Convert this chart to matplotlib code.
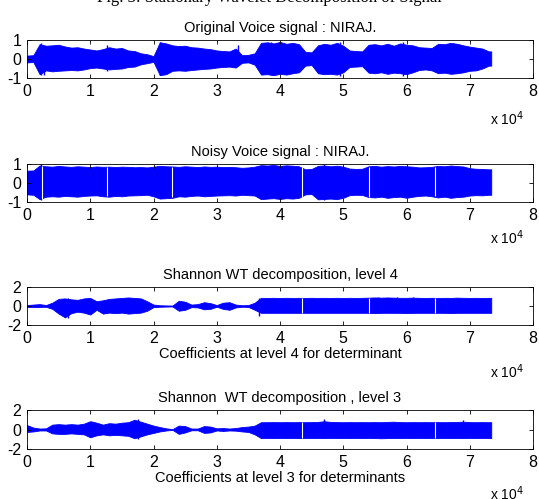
import numpy as np
import matplotlib
matplotlib.use('Agg')
import matplotlib.pyplot as plt

plt.rcParams['font.family'] = ['Liberation Sans Narrow', 'Liberation Sans', 'DejaVu Sans']
plt.rcParams['axes.unicode_minus'] = False

# ---------------- data (envelope of each signal, read every 1000 samples) ----------------
n_end = 73400
grid = np.arange(74) * 1000          # 0, 1000, ... 73000

up_orig = [0.18, 0.2, 0.78, 0.7, 0.72, 0.75, 0.66, 0.6, 0.62, 0.55,
           0.5, 0.45, 0.52, 0.62, 0.55, 0.58, 0.45, 0.42, 0.3, 0.25,
           0.15, 0.88, 0.82, 0.72, 0.68, 0.7, 0.62, 0.6, 0.55, 0.52,
           0.45, 0.42, 0.4, 0.55, 0.2, 0.22, 0.3, 0.85, 0.88, 0.82,
           0.9, 0.8, 0.85, 0.78, 0.38, 0.35, 0.72, 0.8, 0.75, 0.85,
           0.7, 0.45, 0.42, 0.4, 0.75, 0.78, 0.72, 0.8, 0.7, 0.82,
           0.75, 0.72, 0.62, 0.6, 0.58, 0.8, 0.78, 0.85, 0.8, 0.72,
           0.65, 0.6, 0.55, 0.4]
lo_orig = [-0.18, -0.16, -0.8, -0.6, -0.65, -0.62, -0.6, -0.58, -0.6, -0.55,
           -0.48, -0.45, -0.5, -0.55, -0.52, -0.5, -0.42, -0.4, -0.28, -0.22,
           -0.15, -0.85, -0.8, -0.62, -0.6, -0.62, -0.58, -0.55, -0.52, -0.5,
           -0.45, -0.42, -0.4, -0.45, -0.2, -0.18, -0.3, -0.82, -0.8, -0.85,
           -0.78, -0.82, -0.75, -0.7, -0.35, -0.32, -0.75, -0.8, -0.78, -0.82,
           -0.7, -0.42, -0.4, -0.38, -0.72, -0.75, -0.7, -0.78, -0.72, -0.75,
           -0.8, -0.7, -0.58, -0.55, -0.6, -0.75, -0.72, -0.78, -0.75, -0.7,
           -0.62, -0.6, -0.5, -0.35]

up_noisy = [0.65, 0.66, 0.92, 0.88, 0.86, 0.9, 0.87, 0.85, 0.88, 0.86,
            0.84, 0.87, 0.85, 0.86, 0.84, 0.86, 0.85, 0.83, 0.84, 0.82,
            0.86, 0.9, 0.88, 0.87, 0.85, 0.88, 0.86, 0.84, 0.87, 0.85,
            0.86, 0.84, 0.85, 0.83, 0.8, 0.82, 0.86, 0.94, 0.92, 0.95,
            0.9, 0.93, 0.91, 0.88, 0.72, 0.74, 0.9, 0.92, 0.88, 0.91,
            0.86, 0.76, 0.74, 0.75, 0.88, 0.9, 0.86, 0.89, 0.87, 0.9,
            0.88, 0.86, 0.82, 0.83, 0.85, 0.9, 0.88, 0.92, 0.89, 0.87,
            0.78, 0.75, 0.74, 0.72]
lo_noisy = [-0.6, -0.62, -0.85, -0.72, -0.7, -0.72, -0.68, -0.7, -0.72, -0.68,
            -0.66, -0.65, -0.7, -0.72, -0.68, -0.7, -0.66, -0.65, -0.64, -0.62,
            -0.7, -0.82, -0.8, -0.78, -0.7, -0.72, -0.68, -0.66, -0.7, -0.68,
            -0.66, -0.65, -0.64, -0.66, -0.62, -0.64, -0.66, -0.85, -0.82, -0.8,
            -0.84, -0.8, -0.82, -0.78, -0.6, -0.58, -0.86, -0.84, -0.82, -0.85,
            -0.78, -0.64, -0.62, -0.63, -0.74, -0.76, -0.72, -0.78, -0.74, -0.72,
            -0.78, -0.72, -0.68, -0.66, -0.7, -0.76, -0.72, -0.78, -0.74, -0.72,
            -0.66, -0.64, -0.65, -0.62]

up_lev4 = [0.1, 0.15, 0.2, 0.1, 0.35, 0.75, 0.8, 0.7, 0.65, 0.8,
           0.85, 0.5, 0.6, 0.75, 0.8, 0.85, 0.9, 0.85, 0.8, 0.5,
           0.15, 0.08, 0.06, 0.05, 0.55, 0.45, 0.15, 0.2, 0.4, 0.3,
           0.1, 0.35, 0.4, 0.15, 0.08, 0.1, 0.35, 0.86, 0.85, 0.86,
           0.85, 0.86, 0.85, 0.86, 0.85, 0.86, 0.85, 0.86, 0.85, 0.86,
           0.85, 0.86, 0.85, 0.86, 0.88, 0.9, 0.88, 0.9, 0.88, 0.86,
           0.86, 0.88, 0.86, 0.85, 0.86, 0.85, 0.86, 0.85, 0.88, 0.86,
           0.85, 0.86, 0.85, 0.86]
lo_lev4 = [-0.1, -0.1, -0.1, -0.08, -0.3, -0.8, -1.2, -0.75, -0.6, -0.7,
           -0.9, -0.4, -0.8, -0.7, -0.75, -0.7, -0.8, -0.75, -0.7, -0.5,
           -0.12, -0.08, -0.06, -0.05, -0.5, -0.4, -0.12, -0.15, -0.35, -0.3,
           -0.08, -0.3, -0.4, -0.15, -0.08, -0.1, -0.4, -0.72, -0.72, -0.72,
           -0.72, -0.72, -0.72, -0.72, -0.72, -0.72, -0.72, -0.72, -0.72, -0.72,
           -0.72, -0.72, -0.72, -0.72, -0.72, -0.75, -0.72, -0.72, -0.72, -0.72,
           -0.75, -0.72, -0.72, -0.72, -0.72, -0.72, -0.72, -0.75, -0.72, -0.72,
           -0.72, -0.72, -0.72, -0.72]

up_lev3 = [0.45, 0.2, 0.1, 0.12, 0.5, 0.55, 0.5, 0.55, 0.5, 0.6,
           0.85, 0.7, 0.5, 0.65, 0.6, 0.7, 0.75, 1.0, 0.8, 0.6,
           0.4, 0.25, 0.12, 0.04, 0.4, 0.35, 0.1, 0.1, 0.35, 0.3,
           0.12, 0.15, 0.1, 0.15, 0.25, 0.3, 0.4, 0.75, 0.75, 0.76,
           0.75, 0.76, 0.75, 0.76, 0.75, 0.76, 0.78, 0.85, 0.78, 0.76,
           0.75, 0.76, 0.75, 0.76, 0.75, 0.76, 0.75, 0.78, 0.8, 0.76,
           0.75, 0.76, 0.75, 0.76, 0.75, 0.76, 0.75, 0.76, 0.78, 0.8,
           0.76, 0.75, 0.76, 0.75]
lo_lev3 = [-0.25, -0.2, -0.1, -0.1, -0.4, -0.45, -0.45, -0.4, -0.45, -0.5,
           -0.8, -0.6, -0.5, -0.6, -0.55, -0.6, -0.65, -0.9, -0.7, -0.5,
           -0.35, -0.2, -0.1, -0.04, -0.45, -0.3, -0.08, -0.08, -0.35, -0.3,
           -0.1, -0.15, -0.1, -0.12, -0.2, -0.25, -0.5, -0.88, -0.86, -0.88,
           -0.86, -0.88, -0.86, -0.88, -0.86, -0.88, -0.86, -0.88, -0.86, -0.88,
           -0.86, -0.88, -0.86, -0.88, -0.86, -0.88, -0.9, -0.88, -0.86, -0.88,
           -0.86, -0.88, -0.86, -0.88, -0.86, -0.88, -0.86, -0.88, -0.86, -0.88,
           -0.86, -0.88, -0.86, -0.88]

# thin peaks (sample, top, bottom) and white gaps (sample)
spikes = [
    [(2200, 0.85, -0.85), (2700, 0.5, -0.85), (12700, 0.75, -0.62), (33300, 0.72, -0.3),
     (21000, 0.9, -0.85), (38500, 0.92, -0.85), (49500, 0.9, -0.88), (59500, 0.9, -0.88)],
    [(2200, 0.98, -0.9), (47000, 0.98, -0.9)],
    [(6500, 0.8, -1.25), (36700, 0.86, -1.1), (55500, 1.0, -0.72), (58500, 0.98, -0.75), (61000, 1.0, -0.72)],
    [(47000, 1.05, -0.88), (69000, 1.0, -0.88), (17500, 1.05, -0.95)],
]
gaps = [
    [],
    [2300, 12700, 23000, 43500, 54000, 64500],
    [43500, 54000, 64500],
    [43500, 64500],
]

titles = ['Original Voice signal : NIRAJ.', 'Noisy Voice signal : NIRAJ.',
          'Shannon WT decomposition, level 4', 'Shannon  WT decomposition , level 3']
xlabels = ['', '', 'Coefficients at level 4 for determinant',
           'Coefficients at level 3 for determinants']
ylims = [(-1, 1), (-1, 1), (-2, 2), (-2, 2)]
yticks = [[-1, 0, 1], [-1, 0, 1], [-2, 0, 2], [-2, 0, 2]]
uppers = [up_orig, up_noisy, up_lev4, up_lev3]
lowers = [lo_orig, lo_noisy, lo_lev4, lo_lev3]

# ---------------- figure ----------------
W, H = 539, 499
fig = plt.figure(figsize=(W / 100, H / 100), dpi=100)

# axes boxes in pixels: (top, bottom)
boxes = [(40, 78), (164, 202), (287, 325), (410, 449)]
x10_y = [119, 238, 372, 494]
left, right = 27, 533

fig.text(0.5, 1 - 2 / H, 'Fig. 3: Stationary Wavelet Decomposition of Signal',
         ha='center', va='baseline', fontsize=12, family='Liberation Serif')

for i in range(4):
    top, bot = boxes[i]
    ax = fig.add_axes([left / W, 1 - bot / H, (right - left) / W, (bot - top) / H])
    xs = np.append(grid, n_end)
    up = np.append(uppers[i], uppers[i][-1])
    lo = np.append(lowers[i], lowers[i][-1])
    ax.fill_between(xs, lo, up, color='#0000ff', lw=0.6, edgecolor='#0000ff')
    for s, t, b in spikes[i]:
        ax.vlines(s, b, t, color='#0000ff', lw=1.0)
    for g in gaps[i]:
        k = g // 1000
        ax.vlines(g, lowers[i][k] * 0.97, uppers[i][k] * 0.97, color='white', lw=0.8)
    ax.set_xlim(0, 80000)
    ax.set_ylim(*ylims[i])
    ax.set_xticks(np.arange(0, 80001, 10000))
    ax.set_xticklabels([str(v) for v in range(9)])
    ax.set_yticks(yticks[i])
    ax.tick_params(direction='in', top=True, right=True, length=3, width=0.6,
                   labelsize=11.5, pad=4)
    for sp in ax.spines.values():
        sp.set_linewidth(0.6)
    ax.set_title(titles[i], fontsize=10.5, pad=6)
    if xlabels[i]:
        ax.set_xlabel(xlabels[i], fontsize=10.5, labelpad=1)
    fig.text(524 / W, 1 - x10_y[i] / H, r'x 10$^4$', ha='right', va='center', fontsize=10)

plt.savefig('out.png', dpi=100)
